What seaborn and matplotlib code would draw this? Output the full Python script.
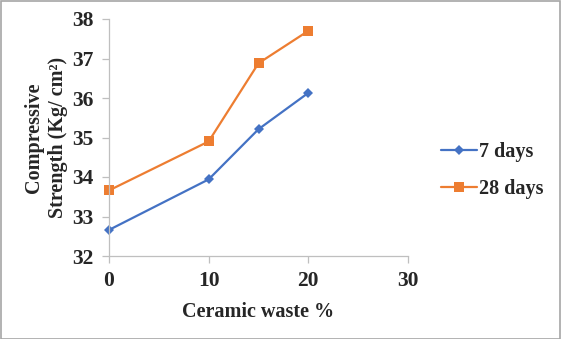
import matplotlib
matplotlib.use("Agg")
import matplotlib.pyplot as plt
import seaborn as sns
import pandas as pd
from matplotlib.patches import Rectangle

# Data
ceramic_waste = [0, 10, 15, 20]
strength_7 = [32.66, 33.94, 35.21, 36.13]
strength_28 = [33.66, 34.90, 36.88, 37.70]
series_names = ["7 days", "28 days"]
x_ticks = [0, 10, 20, 30]
y_ticks = [32, 33, 34, 35, 36, 37, 38]

df = pd.DataFrame({
    "x": ceramic_waste * 2,
    "y": strength_7 + strength_28,
    "series": [series_names[0]] * len(ceramic_waste) + [series_names[1]] * len(ceramic_waste),
})

sns.set_theme(style="white")
plt.rcParams["font.family"] = ["Liberation Serif", "DejaVu Serif"]
plt.rcParams["font.weight"] = "bold"

fig = plt.figure(figsize=(5.61, 3.39), dpi=100)
ax = fig.add_axes([109 / 561, 1 - 256 / 339, (408 - 109) / 561, (256 - 19) / 339])

palette = {"7 days": "#4472C4", "28 days": "#ED7D31"}
markers = {"7 days": "D", "28 days": "s"}
sns.lineplot(data=df, x="x", y="y", hue="series", style="series",
             palette=palette, markers=markers, dashes=False, ax=ax,
             linewidth=1.6, markeredgewidth=0, legend=True)
for line in ax.get_lines():
    line.set_clip_on(False)
    if line.get_marker() == "D":
        line.set_markersize(5.5)
    elif line.get_marker() == "s":
        line.set_markersize(7)

ax.set_xlim(0, 30)
ax.set_ylim(32, 38)
ax.set_xticks(x_ticks)
ax.set_yticks(y_ticks)
ax.tick_params(axis="both", which="major", labelsize=15.5, length=5, width=0.9,
               color="#bfbfbf", direction="out", bottom=True, left=True, pad=6)
for lab in ax.get_xticklabels() + ax.get_yticklabels():
    lab.set_fontweight("bold")
for side in ["top", "right"]:
    ax.spines[side].set_visible(False)
for side in ["left", "bottom"]:
    ax.spines[side].set_color("#bfbfbf")
    ax.spines[side].set_linewidth(0.9)

ax.set_xlabel("Ceramic waste %", fontsize=14.5, fontweight="bold", labelpad=8)
ax.set_ylabel("Compressive\nStrength (Kg/ cm²)", fontsize=14.5, fontweight="bold",
              labelpad=3, linespacing=1.25)

handles, labels = ax.get_legend_handles_labels()
leg = ax.legend(handles, labels, loc="center left",
                bbox_to_anchor=(441 / 561, 1 - 170.5 / 339), bbox_transform=fig.transFigure,
                frameon=False, fontsize=14.5, handlelength=1.8, handletextpad=0.1,
                labelspacing=0.8, borderpad=0, borderaxespad=0)
for t in leg.get_texts():
    t.set_fontweight("bold")

fig.patches.append(Rectangle((0.5 / 561, 0.5 / 339), 1 - 1.5 / 561, 1 - 1.5 / 339,
                             transform=fig.transFigure, fill=False,
                             edgecolor="#a6a6a6", linewidth=1.2))

fig.savefig("out.png", dpi=100)
